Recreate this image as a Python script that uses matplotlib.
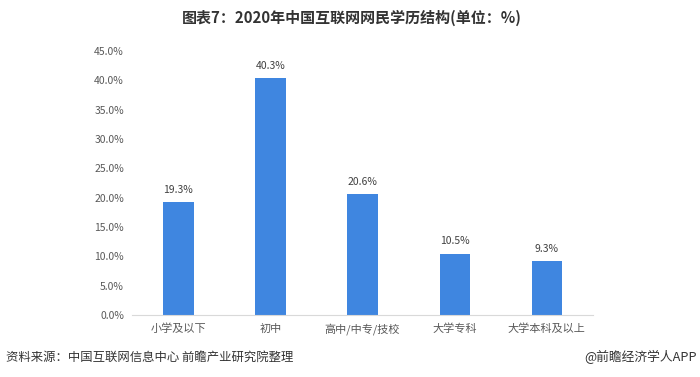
import matplotlib
matplotlib.use('Agg')
import matplotlib.pyplot as plt
import numpy as np

plt.rcParams['font.family'] = ['Noto Sans CJK SC', 'DejaVu Sans']

categories = ['小学及以下', '初中', '高中/中专/技校', '大学专科', '大学本科及以上']
values = [19.3, 40.3, 20.6, 10.5, 9.3]
yticks = np.arange(0, 46, 5)

fig = plt.figure(figsize=(7, 3.77), dpi=100)
ax = fig.add_axes([0.189, 0.164, 0.658, 0.701])

x = np.arange(len(categories))
ax.bar(x, values, width=0.33, color='#3f86e0', zorder=2)
for xi, v in zip(x, values):
    ax.text(xi, v + 1.2, f'{v:.1f}%', ha='center', va='bottom', fontsize=7.5, color='#404040')

ax.set_xlim(-0.5, 4.5)
ax.set_ylim(0, 45)
ax.set_yticks(yticks)
ax.set_yticklabels([f'{t:.1f}%' for t in yticks], fontsize=7.5, color='#595959')
ax.set_xticks(x)
ax.set_xticklabels(categories, fontsize=8, color='#595959')
ax.tick_params(length=0, pad=6)
for s in ['top', 'right', 'left']:
    ax.spines[s].set_visible(False)
ax.spines['bottom'].set_color('#d9d9d9')

fig.text(0.503, 0.952, '图表7：2020年中国互联网网民学历结构(单位：%)', ha='center', va='center',
         fontsize=10.8, fontweight='bold', color='#333333')
fig.text(0.009, 0.052, '资料来源：中国互联网信息中心 前瞻产业研究院整理', ha='left', va='center',
         fontsize=8.9, color='#333333')
fig.text(0.995, 0.052, '@前瞻经济学人APP', ha='right', va='center', fontsize=9.2, color='#333333')

plt.savefig('out.png', dpi=100)
